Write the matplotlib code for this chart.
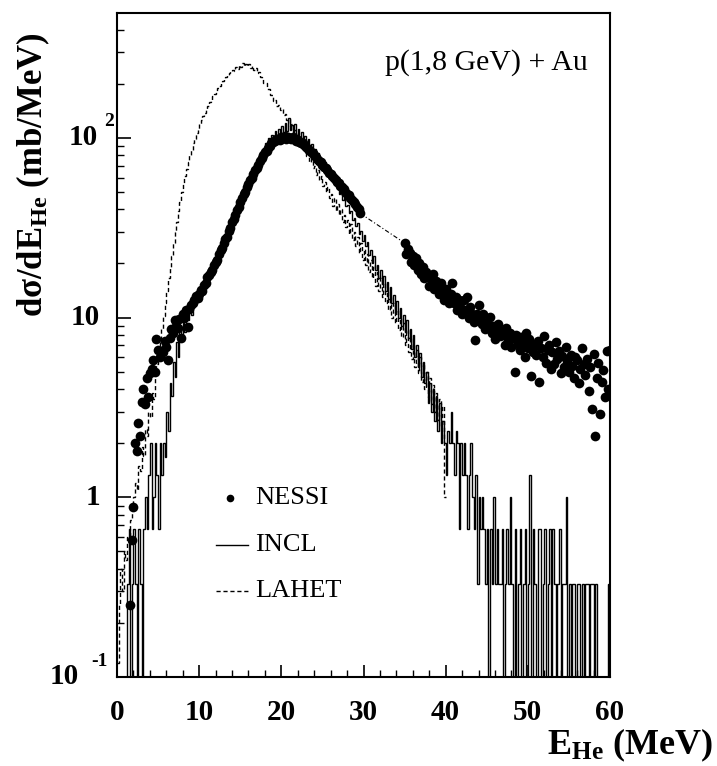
import numpy as np
import matplotlib
matplotlib.use("Agg")
import matplotlib.pyplot as plt
from matplotlib.transforms import blended_transform_factory

plt.rcParams['font.family'] = ['Liberation Serif', 'DejaVu Serif']
plt.rcParams['mathtext.fontset'] = 'custom'
plt.rcParams['mathtext.rm'] = 'Liberation Serif:bold'
plt.rcParams['mathtext.it'] = 'Liberation Serif:bold'
plt.rcParams['mathtext.bf'] = 'Liberation Serif:bold'

# ---------------- data ----------------
# NESSI measurement (E grid 0.2 MeV), low part and high-energy tail
nessi_e_low = np.round(np.arange(1.6, 29.61, 0.2), 1)
nessi_low = [
    0.25, 0.58, 0.88, 2.0, 1.8, 2.6, 2.2, 3.4, 4.0, 3.3,
    4.6, 3.6, 4.9, 5.2, 5.8, 5.0, 7.6, 6.6, 6.0, 6.5,
    6.4, 7.4, 6.9, 5.8, 7.7, 8.6, 8.2, 9.7, 9.0, 8.8,
    9.8, 7.7, 10.4, 10.0, 11.0, 8.9, 11.2, 11.8, 12.0, 12.6,
    13.1, 12.8, 13.5, 14.3, 14.0, 15.2, 15.6, 16.8, 17.2, 18.0,
    18.5, 19.6, 20.5, 21.0, 22.5, 23.8, 24.5, 26.0, 27.5, 28.0,
    30.5, 31.5, 34.0, 35.5, 37.0, 39.5, 41.0, 44.0, 46.0, 48.5,
    50, 53, 55, 58, 60, 63, 66, 68, 71, 74,
    77, 80, 83, 85, 88, 90, 93, 95, 96, 98,
    99, 97, 101, 100, 102, 99, 101, 100, 98, 101,
    99, 96, 97, 95, 93, 94, 91, 89, 87, 86,
    83, 82, 80, 78, 76, 74, 73, 71, 69, 68,
    66, 64, 63, 61, 60, 58, 57, 56, 54, 53,
    52, 50, 49, 48, 46, 45, 44, 43, 41, 40,
    38,
]
nessi_e_high = np.round(np.arange(35.0, 60.01, 0.2), 1)
nessi_high = [
    26, 22.5, 24, 23, 20.5, 22, 19.5, 21.5, 18.5, 20,
    17.5, 19, 16.5, 18, 17, 15, 16.5, 17.5, 14.5, 16,
    15, 13.5, 15.5, 14, 12.5, 14.5, 13, 12, 13.5, 15.5,
    12, 13, 11, 12.5, 11.5, 10.5, 12.5, 11, 13, 10,
    11.5, 10.5, 9.5, 7.5, 10.5, 11.8, 9.8, 9.2, 10.5, 8.6,
    9.5, 8.8, 10.1, 8.2, 9.0, 7.6, 8.6, 9.2, 7.9, 8.4,
    8.0, 7.0, 8.8, 7.4, 8.2, 6.9, 7.7, 5.0, 8.0, 7.1,
    6.6, 7.8, 7.2, 6.0, 8.2, 6.8, 7.6, 4.7, 6.4, 7.0,
    6.2, 7.4, 4.4, 6.8, 6.0, 7.9, 5.6, 6.6, 7.0, 5.2,
    6.4, 5.5, 7.3, 5.9, 6.5, 4.9, 6.1, 5.3, 6.9, 5.7,
    5.0, 6.2, 5.4, 4.6, 6.0, 5.8, 4.3, 5.2, 6.8, 5.5,
    4.8, 5.9, 3.9, 5.3, 3.1, 6.3, 2.2, 4.6, 5.6, 2.9,
    4.4, 5.1, 3.6, 6.5, 4.0, 6.6,
]

# INCL histogram, 0.2 MeV bins from 0 to 60 MeV
incl_edges = np.linspace(0, 60, 301)
incl = [
    0, 0, 0, 0, 0, 0, 0.33, 0.67, 0, 0.33,
    0.67, 0.33, 0, 0.67, 0.33, 0, 0.67, 1.0, 0.67, 1.33,
    2.0, 0.67, 1.0, 2.0, 1.33, 0.67, 2.0, 1.33, 2.0, 1.67,
    3.0, 2.33, 4.33, 3.67, 5.67, 4.67, 7.33, 6.0, 8.67, 7.67,
    9.33, 8.33, 10.7, 9.67, 11.3, 10.3, 12.3, 11.7, 13.0, 12.7,
    14.3, 13.7, 15.7, 15.0, 17.7, 16.3, 18.3, 19.7, 18.7, 21.0,
    20.3, 23.7, 22.0, 24.3, 25.7, 26.0, 29.0, 28.3, 31.0, 33.3,
    35.0, 36.7, 40.3, 39.0, 43.7, 45.0, 48.3, 51.0, 53.7, 55.3,
    59.0, 62.3, 64.0, 68.7, 70.3, 75.0, 78.3, 80.7, 86.0, 88.3,
    93.7, 91.0, 99.3, 96.7, 104.0, 100.3, 108.7, 103.0, 112.3, 106.0,
    115.7, 104.3, 121.0, 108.7, 128.3, 110.0, 117.3, 105.7, 119.0, 103.3,
    112.0, 100.7, 108.3, 97.0, 103.0, 93.7, 98.3, 89.0, 92.7, 84.3,
    87.0, 80.3, 82.7, 76.0, 77.7, 71.3, 73.0, 66.7, 68.3, 62.0,
    63.7, 58.3, 57.7, 55.0, 53.3, 49.0, 50.7, 45.3, 46.0, 41.7,
    42.3, 38.0, 39.3, 35.0, 36.0, 32.3, 33.7, 29.0, 30.3, 26.7,
    28.7, 25.0, 26.3, 22.3, 23.7, 20.0, 22.0, 18.3, 19.7, 16.7,
    18.3, 15.3, 17.0, 14.0, 15.7, 12.7, 14.7, 12.0, 13.3, 10.7,
    12.3, 10.0, 11.3, 9.0, 10.3, 8.33, 9.67, 7.67, 8.67, 6.67,
    8.0, 6.0, 7.0, 5.33, 6.33, 4.67, 5.67, 4.33, 5.0, 3.33,
    4.33, 3.0, 4.0, 2.67, 3.67, 2.33, 3.33, 2.0, 2.67, 2.0,
    1.33, 2.33, 2.0, 3.0, 2.0, 1.33, 2.33, 2.0, 0.67, 2.0,
    1.33, 2.0, 1.33, 0.67, 1.33, 2.0, 1.0, 0.67, 1.33, 0.33,
    1.0, 0.67, 1.0, 0.67, 0.33, 0.67, 0, 0.67, 0.33, 1.0,
    0.33, 0.67, 0.33, 0.33, 0.67, 0, 0.33, 0.67, 0.33, 1.0,
    0.33, 0, 0.67, 0, 0.33, 0.67, 0, 0.33, 0.67, 0,
    0.33, 1.33, 0, 0.67, 0.33, 0, 0.67, 0.67, 0, 0.33,
    0.67, 0, 0.33, 0.67, 0, 0.67, 0.33, 0, 0.33, 0.67,
    0, 0.33, 0.33, 1.0, 0, 0.33, 0, 0.33, 0.33, 0,
    0.33, 0.33, 0, 0.33, 0, 0.33, 0.33, 0, 0.33, 0.33,
    0, 0.33, 0, 0, 0, 0, 0, 0, 0, 0.33,
]

# LAHET histogram, 0.2 MeV bins from 0 to 40 MeV
lahet_edges = np.linspace(0, 40, 201)
lahet = [
    0.12, 0.25, 0.4, 0.3, 0.5, 0.45, 0.6, 0.55, 0.75, 0.85,
    1.0, 1.2, 1.1, 1.5, 1.4, 1.9, 1.7, 2.4, 2.2, 3.0,
    2.8, 3.8, 3.5, 4.8, 5.5, 6.3, 7.5, 8.6, 10.2, 12.0,
    14.0, 16.5, 19.0, 22.0, 26.0, 30.0, 34.0, 39.0, 44.0, 50.0,
    55, 61, 67, 73, 80, 86, 93, 99, 106, 112,
    119, 125, 132, 138, 145, 151, 158, 163, 170, 176,
    182, 189, 194, 201, 206, 213, 218, 224, 229, 236,
    240, 236, 247, 243, 255, 249, 262, 251, 258, 250,
    256, 244, 252, 238, 245, 230, 231, 217, 216, 203,
    202, 188, 188, 174, 173, 161, 163, 151, 153, 143,
    145, 134, 136, 125, 127, 117, 119, 108, 111, 101,
    103, 93, 96, 86, 89, 79, 82, 73, 76, 68,
    70, 62, 66, 58, 61, 54, 57, 50, 53, 46,
    49, 42, 46, 39, 43, 37, 40, 34, 37, 32,
    35, 29, 33, 27, 30, 25, 28, 23, 26, 21,
    24, 19.5, 22.5, 18, 21, 16.5, 19.5, 15, 18, 14,
    16.5, 13, 15.5, 12, 14, 11, 13, 10, 12, 9.3,
    11, 8.5, 10, 7.8, 9.3, 7.0, 8.5, 6.4, 7.8, 5.9,
    7.2, 5.3, 6.6, 4.9, 6.0, 4.4, 5.5, 4.0, 5.0, 3.6,
    4.6, 3.3, 4.2, 3.0, 3.8, 2.7, 3.5, 2.5, 3.2, 1.0,
]

title = "p(1,8 GeV) + Au"
legend_labels = ["NESSI", "INCL", "LAHET"]
xticks = [0, 10, 20, 30, 40, 50, 60]

# ---------------- figure ----------------
W, H = 717, 766
fig = plt.figure(figsize=(W / 100, H / 100), dpi=100)
L, R, T, B = 117, 610, 13, 677
ax = fig.add_axes([L / W, 1 - B / H, (R - L) / W, (B - T) / H])
ax.set_xlim(0, 60)
ax.set_yscale('log')
ax.set_ylim(0.1, 495)

incl_arr = np.array(incl, dtype=float)
incl_plot = np.where(incl_arr > 0, incl_arr, 1e-3)
ax.stairs(incl_plot, incl_edges, baseline=None, color='black', lw=1.0)
ax.stairs(np.array(lahet), lahet_edges, baseline=None, color='black', lw=1.0,
          linestyle=(0, (3, 2)))

ax.plot(nessi_e_low, nessi_low, 'o', color='black', ms=7, mew=0)
ax.plot(nessi_e_high, nessi_high, 'o', color='black', ms=7, mew=0)
ax.plot([nessi_e_low[-1], nessi_e_high[0]], [nessi_low[-1], nessi_high[0]],
        color='black', lw=0.8, linestyle=(0, (4, 2, 1, 2)))

# frame and ticks
for s in ax.spines.values():
    s.set_linewidth(1.5)
ax.set_xticks(xticks)
ax.set_xticks(np.arange(0, 61, 2), minor=True)
ax.tick_params(axis='x', which='major', direction='in', length=9, width=1.2,
               top=False, pad=16, labelsize=21)
ax.tick_params(axis='x', which='minor', direction='in', length=5, width=1.0, top=False)
ax.tick_params(axis='y', which='major', direction='in', length=10, width=1.2,
               right=False, labelleft=False)
ax.tick_params(axis='y', which='minor', direction='in', length=5, width=1.0,
               right=False, labelleft=False)
for lab in ax.get_xticklabels():
    lab.set_fontweight('bold')

# y tick labels in ROOT style
tb = blended_transform_factory(fig.transFigure, ax.transData)
def px(x):
    return x / W
fs = 21
ax.text(px(98), 100, "10", transform=tb, ha='right', va='center', fontsize=fs, fontweight='bold')
ax.text(px(104), 100 * 1.1, "2", transform=tb, ha='left', va='bottom', fontsize=14, fontweight='bold')
ax.text(px(100), 10, "10", transform=tb, ha='right', va='center', fontsize=fs, fontweight='bold')
ax.text(px(100), 1, "1", transform=tb, ha='right', va='center', fontsize=fs, fontweight='bold')
ax.text(px(79), 0.1, "10", transform=tb, ha='right', va='center', fontsize=fs, fontweight='bold')
ax.text(px(108), 0.1 * 1.1, "-1", transform=tb, ha='right', va='bottom', fontsize=14, fontweight='bold')

# axis titles
fig.text(px(33), 1 - 175 / H, "dσ/dE$_{\\rm He}$ (mb/MeV)", rotation=90,
         ha='center', va='center', fontsize=25, fontweight='bold')
fig.text(px(713), 1 - 745 / H, "E$_{\\rm He}$ (MeV)", ha='right', va='center',
         fontsize=26, fontweight='bold')

# title
ax.text((385 - L) / (R - L), (B - 63) / (B - T), title, transform=ax.transAxes,
        ha='left', va='center', fontsize=21.5)

# legend
def ax_x(xp):
    return (xp - L) / (R - L)
def ax_y(yp):
    return (B - yp) / (B - T)
ta = ax.transAxes
ax.plot([ax_x(230)], [ax_y(498)], 'o', color='black', ms=5.5, mew=0, transform=ta)
ax.plot([ax_x(216), ax_x(248)], [ax_y(545)] * 2, color='black', lw=1.0, transform=ta)
ax.plot([ax_x(216), ax_x(248)], [ax_y(591)] * 2, color='black', lw=1.0,
        linestyle=(0, (3, 2)), transform=ta)
for lbl, yp in zip(legend_labels, [498, 545, 591]):
    ax.text(ax_x(255), ax_y(yp), lbl, transform=ta, ha='left', va='center', fontsize=19)

fig.savefig("out.png", dpi=100)
